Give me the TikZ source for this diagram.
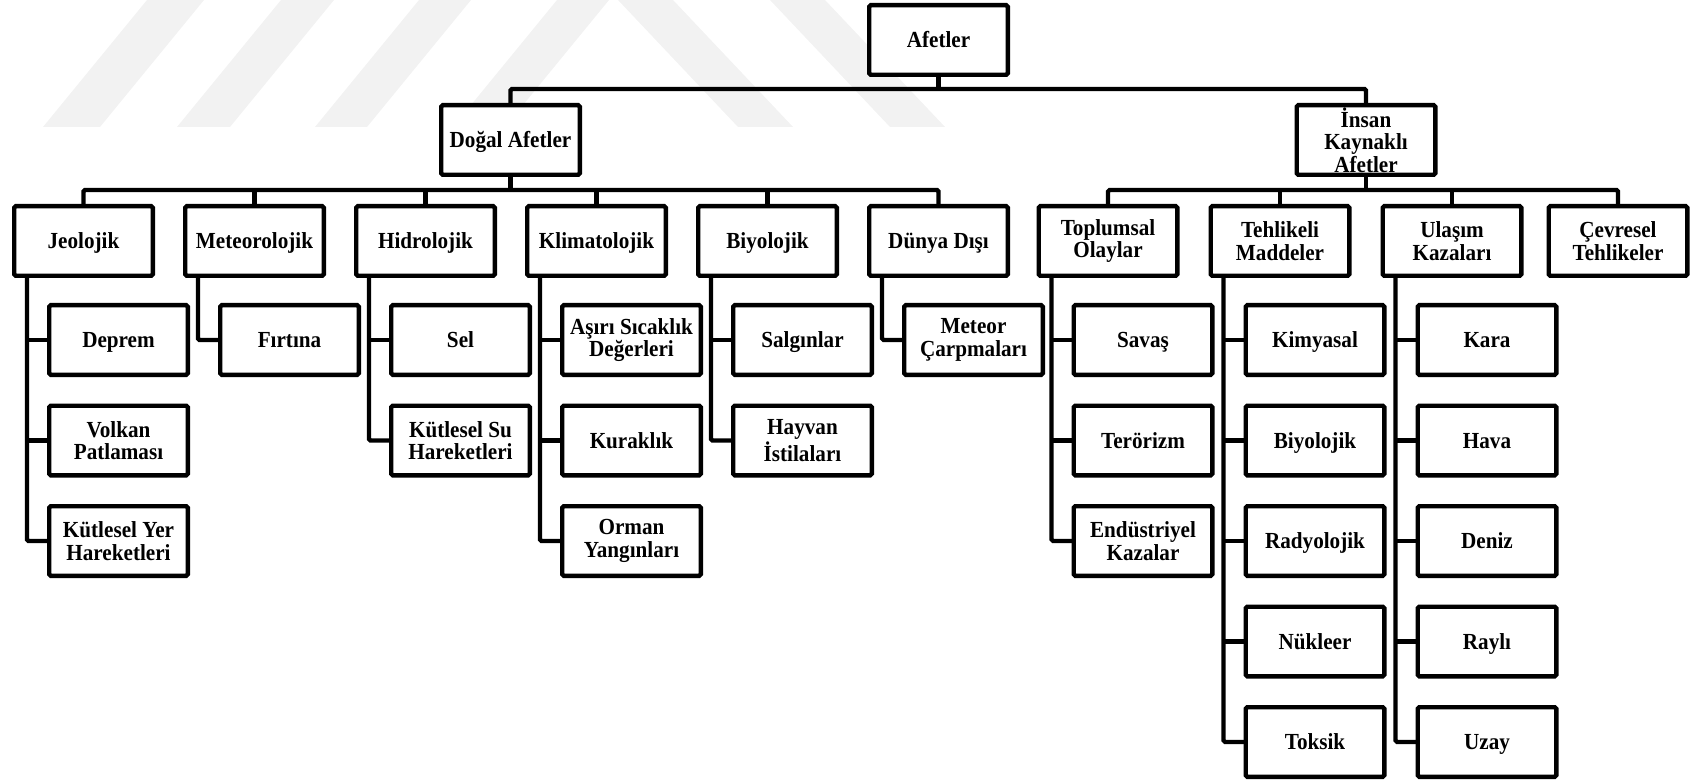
\documentclass[tikz,border=0pt]{standalone}
\usepackage{fontspec}
\setmainfont[FakeStretch=0.92]{Liberation Serif}
\usetikzlibrary{calc}
\begin{document}
\begin{tikzpicture}[x=0.5pt,y=-0.5pt,
  box/.style={draw=black, line width=2.2pt, rounded corners=0.8pt, fill=white,
    minimum width=69.3pt, minimum height=34.8pt, inner sep=0.5pt, outer sep=0pt,
    align=center, font=\fontsize{11.5}{11.2}\selectfont\bfseries},
  sbox/.style={box, text height=9.2pt, text depth=1.6pt},
  conn/.style={draw=black, line width=2.2pt, rounded corners=0.8pt},
  wm/.style={fill=black!5, draw=none}]
\useasboundingbox (0,0) rectangle (1690,780);

% watermark stripes
\fill[wm] (43,127) -- (100,127) -- (204,0) -- (147,0) -- cycle;
\fill[wm] (177,127) -- (230,127) -- (334,0) -- (281,0) -- cycle;
\fill[wm] (315,127) -- (367,127) -- (471,0) -- (419,0) -- cycle;
\fill[wm] (453,127) -- (505,127) -- (609,0) -- (557,0) -- cycle;
\fill[wm] (618,0) -- (673,0) -- (793,127) -- (738,127) -- cycle;
\fill[wm] (770,0) -- (825,0) -- (945,127) -- (890,127) -- cycle;

% level 0 and 1
\node[sbox] (afet) at (938.5,40) {Afetler};
\node[sbox] (dogal) at (510.5,140) {Doğal Afetler};
\node[box] (insan) at (1366,140) {İnsan\\Kaynaklı\\Afetler};

% level 2
\node[sbox] (jeo) at (83.5,241) {Jeolojik};
\node[sbox] (met) at (254.5,241) {Meteorolojik};
\node[sbox] (hid) at (425.5,241) {Hidrolojik};
\node[sbox] (kli) at (596.5,241) {Klimatolojik};
\node[sbox] (biy) at (767.5,241) {Biyolojik};
\node[sbox] (dun) at (938.5,241) {Dünya Dışı};
\node[box] (top) at (1108,241) {Toplumsal\\Olaylar};
\node[box] (teh) at (1280,241) {Tehlikeli\\Maddeler};
\node[box] (ula) at (1452,241) {Ulaşım\\Kazaları};
\node[box] (cev) at (1618,241) {Çevresel\\Tehlikeler};

% level 3
\node[sbox] (jeo1) at (118.5,340) {Deprem};
\node[box] (jeo2) at (118.5,440.5) {Volkan\\Patlaması};
\node[box] (jeo3) at (118.5,541) {Kütlesel Yer\\Hareketleri};
\node[sbox] (met1) at (289.5,340) {Fırtına};
\node[sbox] (hid1) at (460.5,340) {Sel};
\node[box] (hid2) at (460.5,440.5) {Kütlesel Su\\Hareketleri};
\node[box] (kli1) at (631.5,340) {Aşırı Sıcaklık\\Değerleri};
\node[sbox] (kli2) at (631.5,440.5) {Kuraklık};
\node[box] (kli3) at (631.5,541) {Orman\\Yangınları};
\node[sbox] (biy1) at (802.5,340) {Salgınlar};
\node[box] (biy2) at (802.5,440.5) {Hayvan\\İstilaları};
\node[box] (dun1) at (973.5,340) {Meteor\\Çarpmaları};
\node[sbox] (top1) at (1143,340) {Savaş};
\node[sbox] (top2) at (1143,440.5) {Terörizm};
\node[box] (top3) at (1143,541) {Endüstriyel\\Kazalar};
\node[sbox] (teh1) at (1315,340) {Kimyasal};
\node[sbox] (teh2) at (1315,440.5) {Biyolojik};
\node[sbox] (teh3) at (1315,541) {Radyolojik};
\node[sbox] (teh4) at (1315,641.5) {Nükleer};
\node[sbox] (teh5) at (1315,742) {Toksik};
\node[sbox] (ula1) at (1487,340) {Kara};
\node[sbox] (ula2) at (1487,440.5) {Hava};
\node[sbox] (ula3) at (1487,541) {Deniz};
\node[sbox] (ula4) at (1487,641.5) {Raylı};
\node[sbox] (ula5) at (1487,742) {Uzay};

% connectors level 0-1
\coordinate (j0) at (938.5,89);
\draw[conn] (afet.south) -- (j0);
\draw[conn] (dogal.north) |- (j0) -| (insan.north);

% connectors level 1-2
\coordinate (j1) at (510.5,190);
\draw[conn] (dogal.south) -- (j1);
\draw[conn] (jeo.north) |- (j1) -| (dun.north);
\foreach \n in {met,hid,kli,biy} \draw[conn] (\n.north) -- (\n.north |- j1);
\coordinate (j2) at (1366,190);
\draw[conn] (insan.south) -- (j2);
\draw[conn] (top.north) |- (j2) -| (cev.north);
\foreach \n in {teh,ula} \draw[conn] (\n.north) -- (\n.north |- j2);

% connectors level 2-3
\foreach \p/\last/\others in {jeo/jeo3/{jeo1,jeo2}, hid/hid2/{hid1}, kli/kli3/{kli1,kli2}, biy/biy2/{biy1}, top/top3/{top1,top2}, teh/teh5/{teh1,teh2,teh3,teh4}, ula/ula5/{ula1,ula2,ula3,ula4}}{
  \coordinate (\p S) at ($(\p.south)+(-56.5,0)$);
  \draw[conn] (\p S) |- (\last.west);
  \foreach \c in \others \draw[conn] (\p S |- \c.west) -- (\c.west);
}
\foreach \p/\last in {met/met1, dun/dun1}{
  \coordinate (\p S) at ($(\p.south)+(-56.5,0)$);
  \draw[conn] (\p S) |- (\last.west);
}
\end{tikzpicture}
\end{document}
